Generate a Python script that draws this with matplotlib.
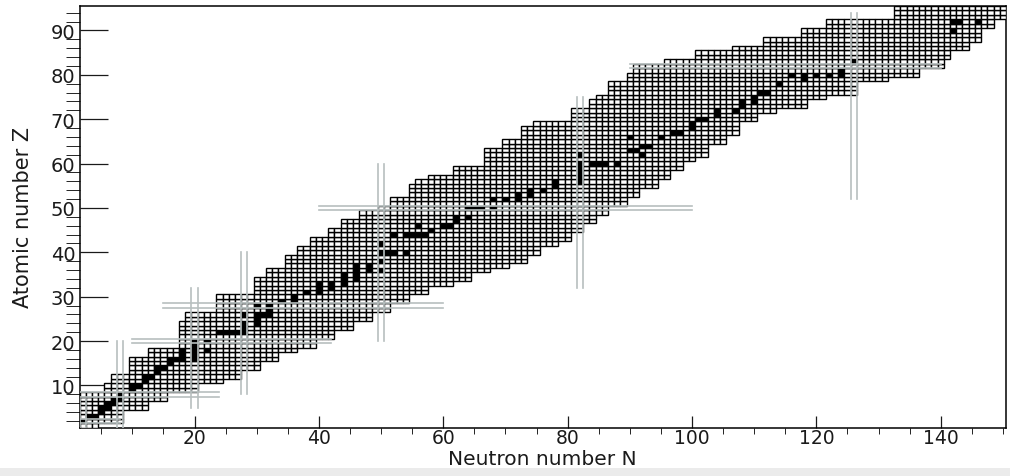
import numpy as np
import matplotlib
matplotlib.use("Agg")
import matplotlib.pyplot as plt
from matplotlib.ticker import MultipleLocator
from matplotlib.patches import Rectangle

# Chart of nuclides: for every proton number Z the lightest and heaviest
# neutron number N that is drawn (boxes)
z_vals = list(range(1, 96))
n_min = [1, 1, 1, 1, 1, 1, 1, 1, 6, 6,
         7, 7, 10, 10, 10, 10, 13, 13, 18, 18,
         18, 18, 18, 18, 19, 19, 24, 24, 24, 24,
         30, 30, 30, 30, 32, 32, 35, 35, 35, 37,
         37, 39, 39, 42, 42, 44, 44, 47, 47, 50,
         52, 52, 55, 55, 55, 56, 58, 62, 62, 67,
         67, 67, 67, 70, 70, 73, 73, 73, 75, 81,
         81, 81, 84, 84, 85, 87, 87, 87, 90, 90,
         91, 91, 96, 101, 101, 107, 112, 112, 118, 118,
         122, 122, 133, 133, 133]
n_max = [4, 8, 8, 8, 12, 12, 15, 15, 20, 20,
         24, 27, 27, 30, 30, 33, 33, 36, 39, 39,
         42, 42, 45, 45, 48, 48, 51, 51, 54, 54,
         57, 57, 61, 64, 64, 67, 70, 73, 73, 75,
         75, 78, 80, 80, 82, 82, 84, 84, 86, 86,
         89, 89, 91, 91, 94, 94, 96, 96, 98, 98,
         100, 102, 102, 102, 105, 105, 107, 107, 107, 110,
         110, 113, 118, 118, 121, 126, 126, 126, 131, 136,
         136, 140, 140, 141, 141, 144, 144, 146, 146, 146,
         148, 148, 150, 150, 150]

# Filled (black) boxes: Z -> neutron numbers
black_n = {2: [2], 3: [3, 4], 4: [5], 5: [5, 6], 6: [6, 7], 7: [7, 8], 8: [8],
           9: [10], 10: [10, 11], 11: [12], 12: [12, 13], 13: [14], 14: [14, 15],
           15: [16], 16: [16, 17, 18, 20], 17: [18, 20], 18: [18, 20, 22],
           19: [20], 20: [20, 22], 22: [24, 25, 26, 27, 28], 23: [28],
           24: [28, 30], 25: [30], 26: [28, 30, 31, 32], 27: [32], 28: [30, 32],
           29: [34, 36], 30: [36], 31: [38, 40], 32: [40, 42], 33: [40, 42, 44],
           34: [44, 46], 35: [44, 46], 36: [46, 48, 50], 37: [46, 48], 38: [50],
           40: [50, 51, 52, 54], 42: [50], 44: [52, 54, 55, 56, 57], 45: [58],
           46: [56, 60, 61], 47: [62], 48: [62, 64], 50: [64, 65, 66, 68],
           52: [68, 70, 72], 53: [72, 74], 54: [74, 76], 55: [78], 56: [78, 82],
           57: [82], 58: [82], 59: [82], 60: [82, 84, 85, 86, 88], 62: [82, 92],
           63: [90, 91], 64: [92, 93], 66: [90, 95], 67: [97, 98], 68: [100],
           69: [100], 70: [101, 102], 71: [104], 72: [104, 107], 73: [108],
           74: [108, 110], 75: [110], 76: [111, 112], 78: [114], 79: [118],
           80: [116, 118, 120, 122, 124], 81: [124], 83: [126], 90: [142],
           92: [142, 143, 146]}

# Magic numbers: double grey lines and the range they cover
magic_n = [2, 8, 20, 28, 50, 82, 126]
magic_n_zlo = [0.5, 0.5, 5, 8, 20, 32, 52]
magic_n_zhi = [7, 20, 32, 40, 60, 75, 94]
magic_z = [2, 8, 20, 28, 50, 82]
magic_z_nlo = [1.5, 1.5, 10, 15, 40, 90]
magic_z_nhi = [8, 24, 42, 60, 100, 140]

fig = plt.figure(figsize=(10.1, 4.77), dpi=100)
ax = fig.add_axes([79.5 / 1010, 1 - 428.6 / 477, 926.5 / 1010, 421.6 / 477])

# one row of boxes per element
for i, z in enumerate(z_vals):
    ns = np.arange(n_min[i], n_max[i] + 1)
    fc = ["black" if n in black_n.get(z, []) else "white" for n in ns]
    ax.bar(ns, 1.0, width=1.0, bottom=z - 0.5, color=fc, edgecolor="black",
           linewidth=1.0, zorder=3)

lc = "#b7bfbf"
for m, lo, hi in zip(magic_n, magic_n_zlo, magic_n_zhi):
    for d in (-0.5, 0.5):
        ax.plot([m + d, m + d], [lo, hi], color=lc, lw=1.2, zorder=4)
for m, lo, hi in zip(magic_z, magic_z_nlo, magic_z_nhi):
    for d in (-0.5, 0.5):
        ax.plot([lo, hi], [m + d, m + d], color=lc, lw=1.2, zorder=4)

ax.set_xlim(1.5, 150.5)
ax.set_ylim(0.5, 95.5)
ax.set_xticks(range(20, 141, 20))
ax.set_yticks(range(10, 91, 10))
ax.xaxis.set_minor_locator(MultipleLocator(5))
ax.yaxis.set_minor_locator(MultipleLocator(2))
ax.tick_params(direction="in", top=False, right=False, labelsize=14,
               width=0.9, colors="#1a1a1a")
ax.tick_params(axis="x", which="major", length=8.6, pad=0.5, labelsize=13.5)
ax.tick_params(axis="x", which="minor", length=4.3)
ax.tick_params(axis="y", which="major", length=20, pad=3)
ax.tick_params(axis="y", which="minor", length=10)
for s in ax.spines.values():
    s.set_linewidth(1.1)

ax.set_xlabel("Neutron number N", fontsize=14.5, color="#1a1a1a")
ax.xaxis.set_label_coords(0.5, -0.051)
ax.set_ylabel("Atomic number Z", fontsize=15, color="#1a1a1a")
ax.yaxis.set_label_coords(-0.050, 0.5)

fig.patches.append(Rectangle((0, 0), 1, 8 / 477, transform=fig.transFigure,
                             facecolor="#ebebeb", edgecolor="none", zorder=-1))

fig.savefig("out.png", dpi=100)
